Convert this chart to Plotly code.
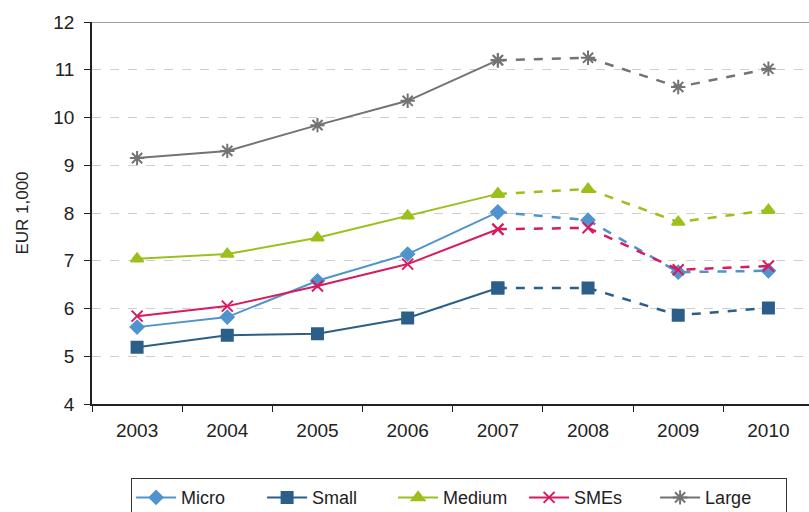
import plotly.graph_objects as go

years = ["2003", "2004", "2005", "2006", "2007", "2008", "2009", "2010"]
micro = [5.61, 5.82, 6.58, 7.14, 8.02, 7.85, 6.76, 6.79]
small = [5.19, 5.44, 5.47, 5.80, 6.43, 6.43, 5.86, 6.01]
medium = [7.04, 7.14, 7.48, 7.94, 8.40, 8.50, 7.81, 8.06]
smes = [5.84, 6.05, 6.47, 6.93, 7.66, 7.69, 6.81, 6.89]
large = [9.15, 9.30, 9.84, 10.35, 11.20, 11.25, 10.64, 11.02]

series = [
    ("Micro", micro, "#4F94CD", dict(symbol="diamond", size=10)),
    ("Small", small, "#2B5F8A", dict(symbol="square", size=11)),
    ("Medium", medium, "#9BC01C", dict(symbol="triangle-up", size=11)),
    ("SMEs", smes, "#D81B60", dict(symbol="x-thin-open", size=11)),
    ("Large", large, "#737373", dict(symbol="asterisk-open", size=12)),
]

split = 4  # index of 2007: solid up to it, dashed after
fig = go.Figure()
for name, vals, color, mk in series:
    marker = dict(color=color, line=dict(color=color, width=2), **mk)
    fig.add_trace(go.Scatter(
        x=years[:split + 1], y=vals[:split + 1], name=name, mode="lines+markers",
        line=dict(color=color, width=2), marker=marker, legendgroup=name,
    ))
    fig.add_trace(go.Scatter(
        x=years[split:], y=vals[split:], name=name, mode="lines+markers",
        line=dict(color=color, width=2.5, dash="dash"), marker=marker,
        legendgroup=name, showlegend=False,
    ))

fig.add_shape(type="line", xref="paper", yref="y", x0=0, x1=1, y0=12, y1=12,
              line=dict(color="#A0A0A0", width=2))

fig.update_layout(
    width=809, height=512,
    margin=dict(l=92, r=0, t=22, b=108, autoexpand=False),
    paper_bgcolor="white", plot_bgcolor="white",
    font=dict(family="Liberation Sans, Arial, sans-serif", size=18, color="#222222"),
    showlegend=True,
    legend=dict(orientation="h", xref="container", yref="container",
                xanchor="center", x=0.5675, yanchor="top", y=0.066,
                bordercolor="#333333", borderwidth=1, font=dict(size=18),
                itemwidth=40, entrywidth=76, entrywidthmode="pixels",
                tracegroupgap=0),
    xaxis=dict(type="category", range=[-0.5, 7.45], showgrid=False,
               showline=True, linecolor="#222222", linewidth=1.5,
               ticks="outside", tickson="boundaries", ticklen=6, tickcolor="#222222",
               ticklabelstandoff=8, tickfont=dict(size=19), automargin=False),
    yaxis=dict(range=[4, 12], dtick=1, showgrid=True, gridcolor="#CFCFCF",
               griddash="dash", gridwidth=1, zeroline=False,
               showline=True, linecolor="#222222", linewidth=1.5,
               ticks="outside", ticklen=6, tickcolor="#222222",
               ticklabelstandoff=6, tickfont=dict(size=19), automargin=False,
               title=dict(text="EUR 1,000", font=dict(size=17), standoff=20)),
)

fig.write_html("out.html")
